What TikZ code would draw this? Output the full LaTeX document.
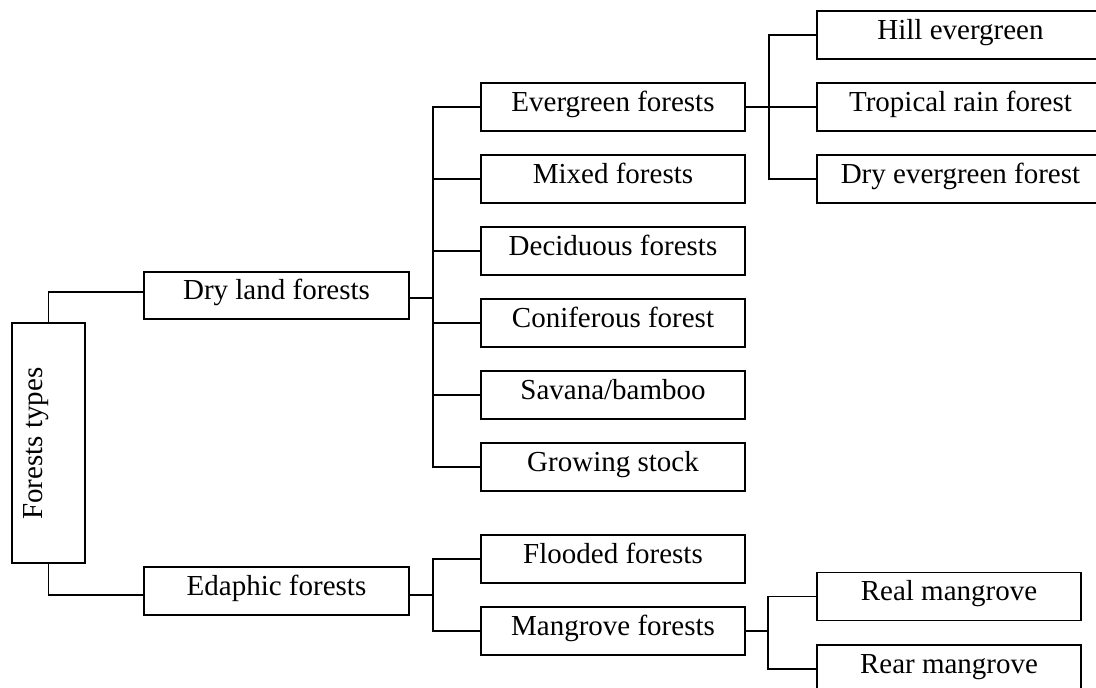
\documentclass[tikz,border=0pt]{standalone}
\usepackage{fontspec}
\setmainfont{Liberation Serif}
\begin{document}
\begin{tikzpicture}[x=1pt,y=-1pt, line width=1.8pt,
  box/.style={draw, rectangle, inner sep=0pt, font=\fontsize{29}{30}\selectfont,
              text height=20pt, text depth=12pt},
  lvtwo/.style={box, minimum width=264pt, minimum height=48pt},
  lvthree/.style={box, minimum width=287pt, minimum height=48pt},
  lvthreeb/.style={box, minimum width=264pt, minimum height=48pt}]
\useasboundingbox (0,0) rectangle (1096,688);
\clip (0,0) rectangle (1096,688);
\fill[white] (0,0) rectangle (1096,688);
% root
\node[draw, minimum width=73pt, minimum height=240pt, inner sep=0pt] (ft) at (48.5,443) {};
\node[rotate=90, font=\fontsize{29}{30}\selectfont, inner sep=0pt] (ftt) at (36,443.5) {Forests types};
% level 1
\node[box, minimum width=265pt, minimum height=47pt] (dl) at (276.5,295.5) {Dry land forests};
\node[box, minimum width=265pt, minimum height=48pt] (ed) at (276.5,591) {Edaphic forests};
% level 2
\node[lvtwo] (ev) at (613,107) {Evergreen forests};
\node[lvtwo] (mx) at (613,179) {Mixed forests};
\node[lvtwo] (de) at (613,251) {Deciduous forests};
\node[lvtwo] (co) at (613,323) {Coniferous forest};
\node[lvtwo] (sa) at (613,395) {Savana/bamboo};
\node[lvtwo] (gr) at (613,467) {Growing stock};
\node[lvtwo] (fl) at (613,559) {Flooded forests};
\node[lvtwo] (mg) at (613,631) {Mangrove forests};
% level 3
\node[lvthree] (hi) at (960.5,35) {Hill evergreen};
\node[lvthree] (tr) at (960.5,107) {Tropical rain forest};
\node[lvthree] (dr) at (960.5,179) {Dry evergreen forest};
\node[lvthreeb] (re) at (949,596.5) {Real mangrove};
\node[lvthreeb] (ra) at (949,669) {Rear mangrove};
% junctions
\coordinate (dlj) at (433,298);
\coordinate (edj) at (433,595);
\coordinate (evj) at (769,107);
\coordinate (mgj) at (768,631);
% connectors root
\draw (ft.north) |- ([yshift=3.5pt]dl.west);
\draw (ft.south) |- ([yshift=-4pt]ed.west);
% dry land
\draw (dlj) -- (dlj -| dl.east);
\foreach \c in {ev,mx,de,co,sa,gr} \draw (dlj) |- (\c.west);
% edaphic
\draw (edj) -- (edj -| ed.east);
\foreach \c in {fl,mg} \draw (edj) |- (\c.west);
% evergreen
\draw (ev.east) -- (evj);
\foreach \c in {hi,tr,dr} \draw (evj) |- (\c.west);
% mangrove
\draw (mg.east) -- (mgj);
\foreach \c in {re,ra} \draw (mgj) |- (\c.west);
\end{tikzpicture}
\end{document}
